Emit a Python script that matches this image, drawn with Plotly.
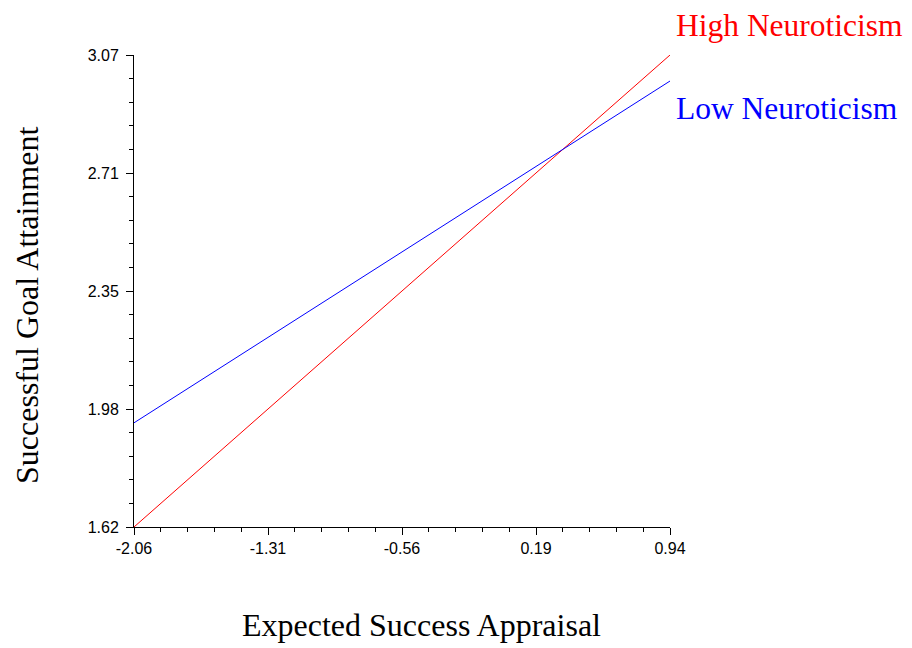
import plotly.graph_objects as go

x_vals = [-2.06, 0.94]
high_neuro = [1.62, 3.07]
low_neuro = [1.94, 2.99]
x_ticks = [-2.06, -1.31, -0.56, 0.19, 0.94]
x_tick_text = ["-2.06", "-1.31", "-0.56", "0.19", "0.94"]
y_ticks = [1.62, 1.9825, 2.345, 2.7075, 3.07]
y_tick_text = ["1.62", "1.98", "2.35", "2.71", "3.07"]

fig = go.Figure()
fig.add_trace(go.Scatter(x=x_vals, y=high_neuro, mode="lines",
                         line=dict(color="#ff0000", width=1), name="High Neuroticism"))
fig.add_trace(go.Scatter(x=x_vals, y=low_neuro, mode="lines",
                         line=dict(color="#0000ff", width=1), name="Low Neuroticism"))

serif = "Liberation Serif, Times New Roman, serif"
sans = "Liberation Sans, Arial, sans-serif"

fig.add_annotation(x=x_vals[-1], y=high_neuro[-1], xref="x", yref="y",
                   text="High Neuroticism", showarrow=False, xanchor="left",
                   yanchor="middle", xshift=4, yshift=30,
                   font=dict(family=serif, size=31.5, color="#ff0000"))
fig.add_annotation(x=x_vals[-1], y=low_neuro[-1], xref="x", yref="y",
                   text="Low Neuroticism", showarrow=False, xanchor="left",
                   yanchor="middle", xshift=4, yshift=-27,
                   font=dict(family=serif, size=31.5, color="#0000ff"))
fig.add_annotation(x=0.537, y=-0.2076, xref="paper", yref="paper",
                   text="Expected Success Appraisal", showarrow=False,
                   xanchor="center", yanchor="middle",
                   font=dict(family=serif, size=32, color="black"))
fig.add_annotation(x=-0.2, y=0.47, xref="paper", yref="paper",
                   text="Successful Goal Attainment", showarrow=False, textangle=-90,
                   xanchor="center", yanchor="middle",
                   font=dict(family=serif, size=32, color="black"))

axis_common = dict(showgrid=False, zeroline=False, showline=True, linecolor="black",
                   linewidth=1, ticks="outside", ticklen=7, tickcolor="black",
                   tickfont=dict(family=sans, size=16, color="black"))

fig.update_xaxes(range=[-2.06, 0.94], tickmode="array", tickvals=x_ticks,
                 ticktext=x_tick_text,
                 minor=dict(ticks="outside", ticklen=4, tickcolor="black",
                            tick0=-2.06, dtick=0.15, showgrid=False),
                 **axis_common)
fig.update_yaxes(range=[1.62, 3.07], tickmode="array", tickvals=y_ticks,
                 ticktext=y_tick_text, ticklabelstandoff=4,
                 minor=dict(ticks="outside", ticklen=4, tickcolor="black",
                            tick0=1.62, dtick=0.0725, showgrid=False),
                 **axis_common)

fig.update_layout(width=912, height=640, showlegend=False,
                  plot_bgcolor="white", paper_bgcolor="white",
                  margin=dict(l=126, r=250, t=47, b=121))

fig.write_html("out.html")
